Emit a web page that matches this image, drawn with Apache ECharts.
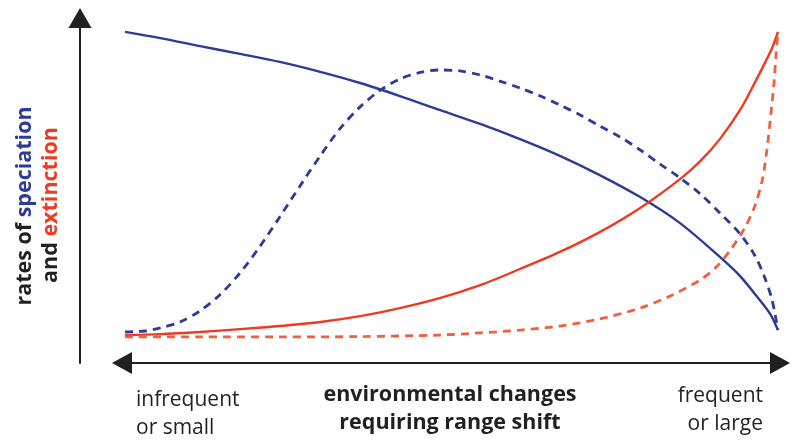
<!DOCTYPE html>
<html>
<head>
<meta charset="utf-8">
<script src="https://cdn.jsdelivr.net/npm/echarts@6/dist/echarts.min.js"></script>
<style>html,body{margin:0;padding:0;background:#fff;}#c{width:800px;height:446px;}</style>
</head>
<body>
<div id="c"></div>
<script>
// Values, x: environmental change (0 = infrequent/small, 100 = frequent/large)
// y: relative rate (0 = baseline, 100 = top of the curves)
const speciationSolidX = [0, 5.4, 11.5, 17.6, 23.7, 29.9, 36.0, 42.1, 48.2, 54.4, 60.5, 66.6, 72.7, 78.9, 85.0, 91.1, 94.2, 97.2, 98.8, 100];
const speciationSolidY = [99.4, 97.4, 94.8, 92.3, 89.7, 86.5, 82.9, 78.7, 74.2, 69.7, 64.8, 59.4, 53.2, 46.1, 37.7, 26.8, 20.6, 12.9, 8.4, 3.2];

const speciationDashedX = [0, 3.1, 5.4, 8.4, 11.5, 14.5, 17.6, 20.7, 23.7, 26.8, 29.9, 32.9, 36.0, 39.1, 42.1, 45.2, 48.2, 51.3, 54.4, 57.4, 60.5, 63.6, 66.6, 69.7, 72.7, 75.8, 78.9, 81.9, 85.0, 88.1, 91.1, 94.2, 96.5, 98.0, 99.1, 100];
const speciationDashedY = [2.6, 2.9, 3.9, 5.8, 9.4, 14.5, 21.6, 30.3, 39.7, 49.7, 59.4, 68.1, 75.2, 80.6, 84.2, 86.3, 87.1, 86.8, 85.5, 83.5, 81.3, 78.7, 75.8, 72.6, 69.0, 65.5, 61.3, 56.8, 52.3, 47.1, 41.0, 34.2, 27.1, 20.0, 12.9, 3.2];

const extinctionSolidX = [0, 5.4, 11.5, 17.6, 23.7, 29.9, 36.0, 42.1, 48.2, 54.4, 60.5, 66.6, 72.7, 78.9, 85.0, 88.1, 91.1, 94.2, 96.5, 98.0, 99.1, 100];
const extinctionSolidY = [1.6, 1.9, 2.6, 3.5, 4.5, 5.8, 7.7, 10.3, 13.5, 17.7, 22.9, 28.4, 34.8, 42.6, 51.9, 57.7, 64.8, 74.2, 83.2, 89.4, 94.2, 99.4];

const extinctionDashedX = [0, 11.5, 23.7, 36.0, 48.2, 54.4, 60.5, 66.6, 72.7, 78.9, 83.5, 88.1, 90.4, 92.6, 94.9, 96.5, 97.6, 98.3, 98.9, 99.4, 99.7, 100];
const extinctionDashedY = [1.0, 1.0, 1.0, 1.1, 1.6, 2.3, 3.2, 4.5, 6.8, 10.3, 14.2, 19.4, 23.2, 28.7, 36.1, 43.5, 51.6, 61.3, 72.6, 83.2, 91.9, 99.4];

const xLeftLabel = ['infrequent', 'or small'];
const xRightLabel = ['frequent', 'or large'];
const xTitle = ['environmental changes', 'requiring range shift'];

const BLUE = '#2d3b98';
const RED = '#ee3a22';
const RED_DASH = '#f0603f';
const INK = '#231f20';

function pairs(xs, ys) { return xs.map((x, i) => [x, ys[i]]); }

const chart = echarts.init(document.getElementById('c'), null, {renderer: 'canvas'});
const font = '"Open Sans", "Noto Sans", sans-serif';

chart.setOption({
  animation: false,
  backgroundColor: '#ffffff',
  grid: {left: 122, right: 20, top: 18, bottom: 83},
  xAxis: {
    type: 'value', min: -0.46, max: 100.31,
    axisLine: {show: true, onZero: false, symbol: ['triangle', 'triangle'], symbolSize: [22, 20], lineStyle: {color: INK, width: 2}},
    axisTick: {show: false}, axisLabel: {show: false}, splitLine: {show: false}
  },
  yAxis: {
    type: 'value', min: -7.42, max: 103.87, offset: 42,
    axisLine: {show: true, onZero: false, symbol: ['none', 'triangle'], symbolSize: [23, 20], lineStyle: {color: INK, width: 2}},
    axisTick: {show: false}, axisLabel: {show: false}, splitLine: {show: false}
  },
  series: [
    {type: 'line', data: pairs(speciationSolidX, speciationSolidY), smooth: 0.3, showSymbol: false, lineStyle: {color: BLUE, width: 2.4}},
    {type: 'line', data: pairs(speciationDashedX, speciationDashedY), smooth: 0.3, showSymbol: false, lineStyle: {color: BLUE, width: 2.8, type: [8, 6]}},
    {type: 'line', data: pairs(extinctionSolidX, extinctionSolidY), smooth: 0.3, showSymbol: false, lineStyle: {color: RED, width: 2.4}},
    {type: 'line', data: pairs(extinctionDashedX, extinctionDashedY), smooth: 0.3, showSymbol: false, lineStyle: {color: RED_DASH, width: 2.8, type: [8, 6]}}
  ],
  graphic: [
    {type: 'text', x: 136, y: 400, style: {text: xLeftLabel[0], font: '21px ' + font, fill: INK, textAlign: 'left', textVerticalAlign: 'middle'}},
    {type: 'text', x: 136, y: 428, style: {text: xLeftLabel[1], font: '21px ' + font, fill: INK, textAlign: 'left', textVerticalAlign: 'middle'}},
    {type: 'text', x: 763, y: 396, style: {text: xRightLabel[0], font: '21px ' + font, fill: INK, textAlign: 'right', textVerticalAlign: 'middle'}},
    {type: 'text', x: 763, y: 424, style: {text: xRightLabel[1], font: '21px ' + font, fill: INK, textAlign: 'right', textVerticalAlign: 'middle'}},
    {type: 'text', x: 450, y: 395, style: {text: xTitle[0], font: 'bold 21.5px ' + font, fill: INK, textAlign: 'center', textVerticalAlign: 'middle'}},
    {type: 'text', x: 450, y: 423, style: {text: xTitle[1], font: 'bold 21.5px ' + font, fill: INK, textAlign: 'center', textVerticalAlign: 'middle'}},
    {type: 'text', x: 25, y: 206, rotation: Math.PI / 2,
      style: {text: '{k|rates of }{b|speciation}', textAlign: 'center', textVerticalAlign: 'middle',
        rich: {k: {font: 'bold 21.5px ' + font, fill: INK}, b: {font: 'bold 21.5px ' + font, fill: BLUE}}}},
    {type: 'text', x: 51, y: 205, rotation: Math.PI / 2,
      style: {text: '{k|and }{r|extinction}', textAlign: 'center', textVerticalAlign: 'middle',
        rich: {k: {font: 'bold 21.5px ' + font, fill: INK}, r: {font: 'bold 21.5px ' + font, fill: RED}}}}
  ]
});
</script>
</body>
</html>
